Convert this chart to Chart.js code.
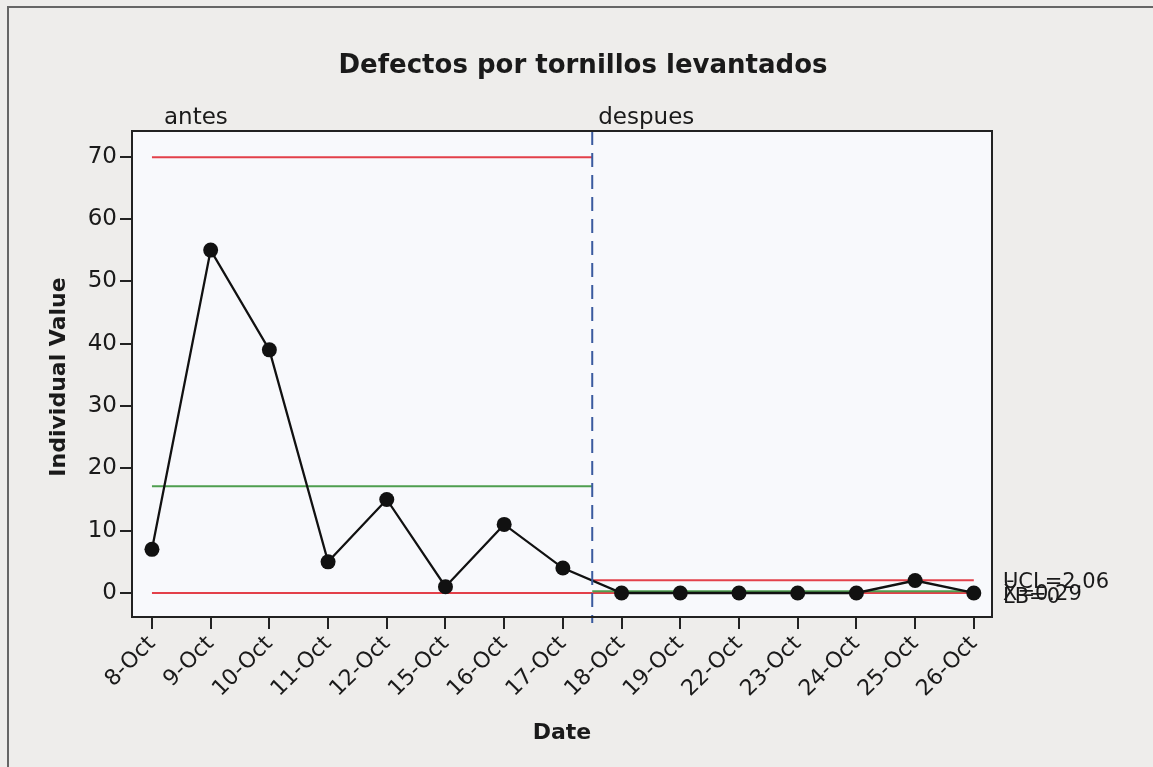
<!DOCTYPE html>
<html>
<head>
<meta charset="utf-8">
<script src="https://cdn.jsdelivr.net/npm/chart.js@4.4.1/dist/chart.umd.min.js"></script>
<style>
html,body{margin:0;padding:0;background:#eeedeb;}
#wrap{width:1153px;height:767px;position:relative;}
</style>
</head>
<body>
<div id="wrap"><canvas id="c" width="1153" height="767"></canvas></div>
<script>
// ---- data ----
const categories = ['8-Oct','9-Oct','10-Oct','11-Oct','12-Oct','15-Oct','16-Oct','17-Oct','18-Oct','19-Oct','22-Oct','23-Oct','24-Oct','25-Oct','26-Oct'];
const defects = [7, 55, 39, 5, 15, 1, 11, 4, 0, 0, 0, 0, 0, 2, 0];
const stageNames = ['antes', 'despues'];
const stageFirst = [0, 8];      // first category index of each stage
const stageLast = [7, 14];      // last category index of each stage
const ucl = [69.9, 2.06];
const centre = [17.13, 0.29];
const lcl = [0, 0];
const limitLabels = ['UCL=2.06', 'X\u0304=0.29', 'LB=0'];
const yTicks = [0, 10, 20, 30, 40, 50, 60, 70];

const FONT = "'DejaVu Sans', Verdana, sans-serif";
const boundary = (stageLast[0] + stageFirst[1]) / 2;

function limitSeg(vals, s) {
  const x0 = s === 0 ? stageFirst[0] : boundary;
  const x1 = s === 0 ? boundary : stageLast[1];
  return [{x: x0, y: vals[s]}, {x: x1, y: vals[s]}];
}
const RED = '#e3404a', GREEN = '#4f9e4f';
const limitSets = [];
[0, 1].forEach(s => {
  limitSets.push({data: limitSeg(ucl, s), borderColor: RED});
  limitSets.push({data: limitSeg(centre, s), borderColor: GREEN});
  limitSets.push({data: limitSeg(lcl, s), borderColor: RED});
});
limitSets.forEach(d => { d.borderWidth = 2; d.pointRadius = 0; d.order = 2; d.showLine = true; d.fill = false; });

const decor = {
  id: 'decor',
  beforeDraw(chart) {
    const {ctx, chartArea: a} = chart;
    ctx.save();
    ctx.fillStyle = '#eeedeb';
    ctx.fillRect(0, 0, chart.width, chart.height);
    ctx.fillStyle = '#f8f9fc';
    ctx.fillRect(a.left, a.top, a.right - a.left, a.bottom - a.top);
    // outer frame (scan edge)
    ctx.strokeStyle = '#666';
    ctx.lineWidth = 2;
    ctx.beginPath();
    ctx.moveTo(8, chart.height); ctx.lineTo(8, 7); ctx.lineTo(chart.width, 7);
    ctx.stroke();
    ctx.restore();
  },
  afterDatasetsDraw(chart) {
    const {ctx, chartArea: a, scales: {x, y}} = chart;
    ctx.save();
    // stage divider
    const bx = x.getPixelForValue(boundary);
    ctx.strokeStyle = '#3a5a9e';
    ctx.lineWidth = 2;
    ctx.setLineDash([14, 8]);
    ctx.beginPath();
    ctx.moveTo(bx, a.top); ctx.lineTo(bx, a.bottom + 6);
    ctx.stroke();
    ctx.setLineDash([]);
    // plot frame
    ctx.strokeStyle = '#222';
    ctx.lineWidth = 2;
    ctx.strokeRect(a.left, a.top, a.right - a.left, a.bottom - a.top);
    ctx.fillStyle = '#1a1a1a';
    // title
    ctx.font = 'bold 26px ' + FONT;
    ctx.textAlign = 'center';
    ctx.textBaseline = 'alphabetic';
    ctx.fillText('Defectos por tornillos levantados', 583, 73);
    // stage labels
    ctx.font = '23px ' + FONT;
    ctx.textAlign = 'left';
    ctx.fillText(stageNames[0], x.getPixelForValue(stageFirst[0]) + 12, 124);
    ctx.fillText(stageNames[1], bx + 6, 124);
    // axis titles
    ctx.font = 'bold 22px ' + FONT;
    ctx.textAlign = 'center';
    ctx.fillText('Date', 562, 739);
    ctx.save();
    ctx.translate(65, 377);
    ctx.rotate(-Math.PI / 2);
    ctx.fillText('Individual Value', 0, 0);
    ctx.restore();
    // limit labels (last stage)
    ctx.font = '21px ' + FONT;
    ctx.textAlign = 'left';
    ctx.textBaseline = 'middle';
    const lx = a.right + 11;
    ctx.fillText(limitLabels[0], lx, y.getPixelForValue(ucl[1]) + 2);
    ctx.fillText(limitLabels[1], lx, y.getPixelForValue(centre[1]) + 3);
    ctx.fillText(limitLabels[2], lx, y.getPixelForValue(lcl[1]) + 5);
    ctx.restore();
  }
};

new Chart(document.getElementById('c'), {
  type: 'scatter',
  data: {
    datasets: [{
      data: defects.map((v, i) => ({x: i, y: v})),
      showLine: true,
      borderColor: '#111',
      borderWidth: 2.3,
      backgroundColor: '#111',
      pointRadius: 7.5,
      pointBorderWidth: 0,
      order: 1
    }, ...limitSets]
  },
  options: {
    responsive: false,
    animation: false,
    layout: {padding: {left: 0, top: 131, right: 161, bottom: 0}},
    plugins: {legend: {display: false}, tooltip: {enabled: false}},
    scales: {
      x: {
        type: 'linear',
        min: -0.34, max: 14.31,
        afterFit(s) { s.height = 150; },
        afterBuildTicks(s) { s.ticks = categories.map((c, i) => ({value: i})); },
        ticks: {
          autoSkip: false,
          maxRotation: 45, minRotation: 45,
          color: '#1a1a1a',
          font: {family: FONT, size: 22},
          padding: 2,
          callback: (v) => categories[v]
        },
        grid: {drawOnChartArea: false, drawTicks: true, tickLength: 12, color: '#222', lineWidth: 2},
        border: {display: true, color: '#222', width: 2}
      },
      y: {
        type: 'linear',
        min: -3.85, max: 74.1,
        afterFit(s) { s.width = 132; },
        afterBuildTicks(s) { s.ticks = yTicks.map(v => ({value: v})); },
        ticks: {
          color: '#1a1a1a',
          font: {family: FONT, size: 23},
          padding: 3
        },
        grid: {drawOnChartArea: false, drawTicks: true, tickLength: 12, color: '#222', lineWidth: 2},
        border: {display: true, color: '#222', width: 2}
      }
    }
  },
  plugins: [decor]
});
</script>
</body>
</html>
